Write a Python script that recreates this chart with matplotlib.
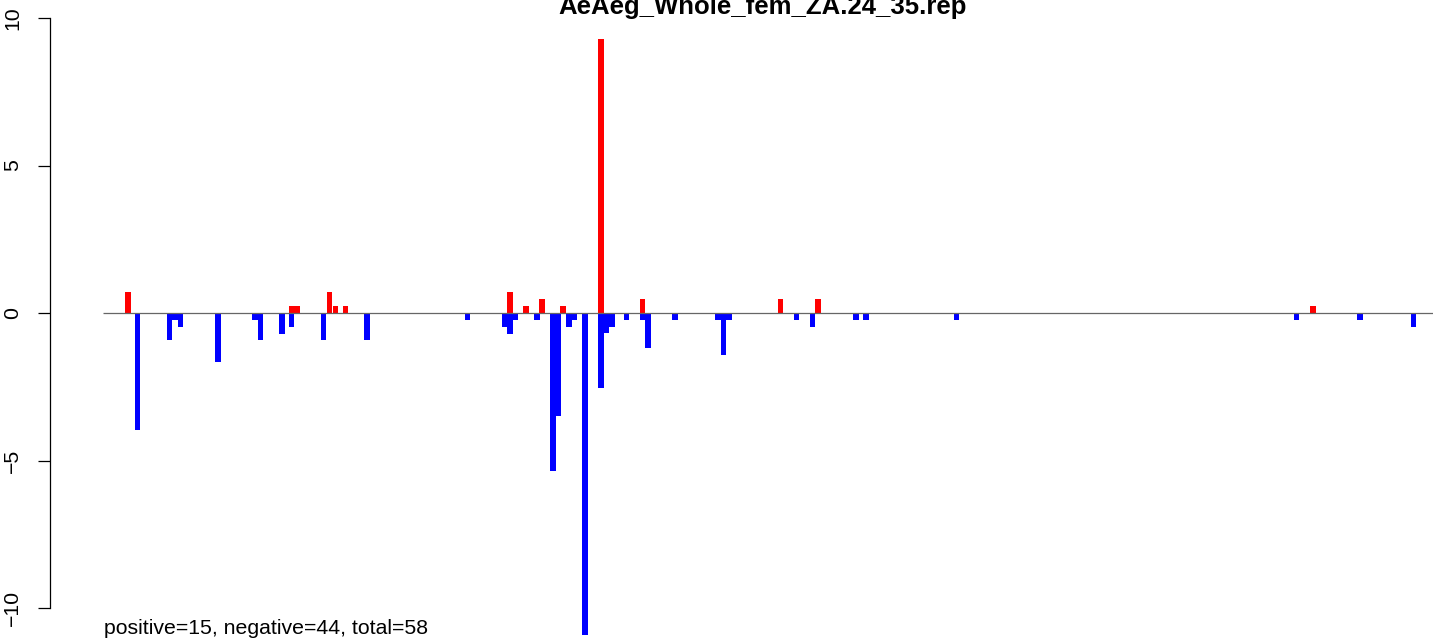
import matplotlib
matplotlib.use("Agg")
import matplotlib.pyplot as plt

plt.rcParams['font.family'] = ['Liberation Sans', 'DejaVu Sans']

# bar positions (left edge, in bar-width units) and heights
pos_x = [4.0, 33.8, 34.8, 40.7, 41.8, 43.6, 73.5, 76.4, 79.3, 83.1,
         90.0, 97.6, 122.7, 129.5, 219.5]
pos_y = [0.71, 0.24, 0.24, 0.71, 0.24, 0.24, 0.71, 0.24, 0.47, 0.24,
         9.3, 0.47, 0.47, 0.47, 0.24]

neg_x = [5.8, 11.6, 12.6, 13.6, 20.4, 27.1, 28.1, 32.0, 33.8, 39.6,
         47.5, 65.8, 72.5, 73.5, 74.5, 78.4, 81.3, 82.3, 84.2, 85.2,
         87.1, 90.0, 91.0, 92.0, 94.7, 97.6, 98.6, 103.5, 111.3, 112.3,
         113.3, 125.6, 128.5, 136.4, 138.2, 154.7, 216.5, 228.0, 237.8]
neg_y = [-3.95, -0.93, -0.24, -0.47, -1.65, -0.24, -0.93, -0.7, -0.47, -0.93,
         -0.93, -0.24, -0.47, -0.7, -0.24, -0.24, -5.37, -3.5, -0.47, -0.24,
         -10.93, -2.55, -0.69, -0.47, -0.24, -0.24, -1.17, -0.24, -0.24, -1.41,
         -0.24, -0.24, -0.47, -0.24, -0.24, -0.24, -0.24, -0.24, -0.47]

y_ticks = [-10, -5, 0, 5, 10]
title = "AeAeg_Whole_fem_ZA.24_35.rep"
summary = "positive=15, negative=44, total=58"

W, H = 1433, 641
fig = plt.figure(figsize=(W / 100, H / 100), dpi=100)
ax = fig.add_axes([50 / W, 0, 1 - 50 / W, 1])

# x: 5.5 px per bar, bars start at px 103
x_left = (50 - 103) / 5.5
x_right = (W - 103) / 5.5
ax.set_xlim(x_left, x_right)
# y: 29.5 px per unit, zero at px 313
ax.set_ylim(-10 - (H - 608) / 29.5, 10 + 18 / 29.5)

ax.bar(neg_x, neg_y, width=1.0, align='edge', color='#0000FF', linewidth=0)
ax.bar(pos_x, pos_y, width=1.0, align='edge', color='#FF0000', linewidth=0)
ax.hlines(0, 0, x_right, color='#666666', linewidth=0.9, zorder=5)

for s in ['top', 'right', 'bottom']:
    ax.spines[s].set_visible(False)
ax.spines['left'].set_bounds(-10, 10)
ax.spines['left'].set_linewidth(0.9)
ax.set_xticks([])
ax.set_yticks(y_ticks)
ax.set_yticklabels([str(t).replace('-', '\u2212') for t in y_ticks],
                   rotation=90, va='center', fontsize=15.3)
ax.tick_params(axis='y', length=8.6, width=0.9, pad=11.5)

# title sits partly above the top edge, as in the cropped original
fig.text(763 / W, 1 - 14 / H, title, ha='center', va='baseline',
         fontsize=18.5, fontweight='bold')
fig.text(104 / W, 1 - 634 / H, summary, ha='left', va='baseline', fontsize=15.3)

fig.savefig('out.png', dpi=100)
